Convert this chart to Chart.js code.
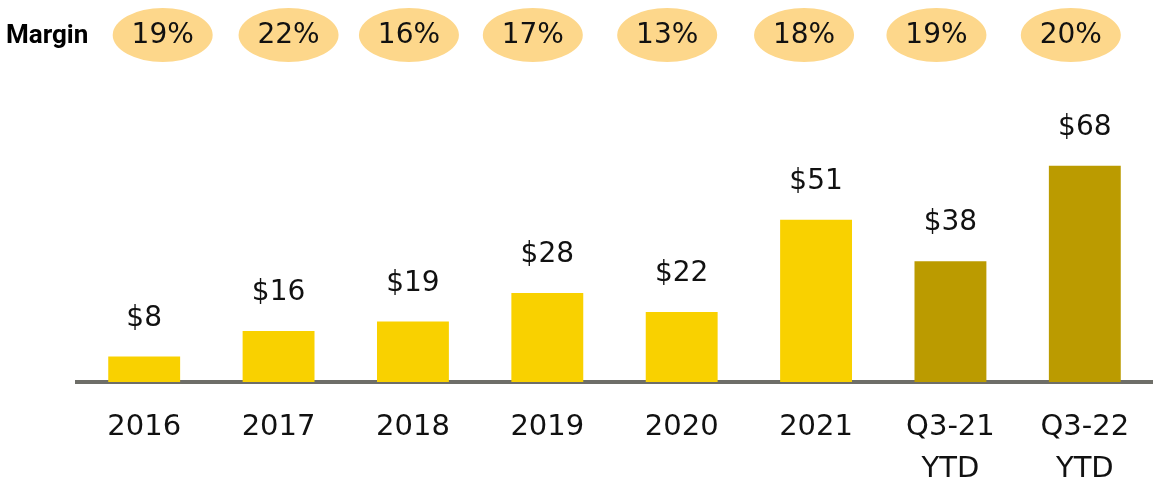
<!DOCTYPE html>
<html>
<head>
<meta charset="utf-8">
<script src="https://cdn.jsdelivr.net/npm/chart.js@4/dist/chart.umd.min.js"></script>
<style>
  html, body { margin: 0; padding: 0; background: #fff; }
  #wrap { width: 1158px; height: 488px; position: relative; }
</style>
</head>
<body>
<div id="wrap"><canvas id="revChart"></canvas></div>
<script>
// ── Data ─────────────────────────────────────────────────────
const categories = ['2016', '2017', '2018', '2019', '2020', '2021', ['Q3-21', 'YTD'], ['Q3-22', 'YTD']];
const values     = [8, 16, 19, 28, 22, 51, 38, 68];
const margins    = ['19%', '22%', '16%', '17%', '13%', '18%', '19%', '20%'];
const ytdFlags   = [false, false, false, false, false, false, true, true];

const FONT = "'DejaVu Sans', sans-serif";
const YELLOW = '#f9d100';
const GOLD   = '#bb9b00';

// value labels above each bar
const valueLabels = {
    id: 'valueLabels',
    afterDatasetsDraw(chart) {
        const { ctx } = chart;
        const meta = chart.getDatasetMeta(0);
        ctx.save();
        ctx.font = `28px ${FONT}`;
        ctx.fillStyle = '#111';
        ctx.textAlign = 'center';
        ctx.textBaseline = 'alphabetic';
        meta.data.forEach((bar, i) => {
            ctx.fillText('$' + values[i], bar.x, bar.y - 31);
        });
        ctx.restore();
    },
};

// margin row with ellipses on top
const marginRow = {
    id: 'marginRow',
    afterDraw(chart, args, opts) {
        const { ctx } = chart;
        const meta = chart.getDatasetMeta(0);
        const cy = opts.y;
        ctx.save();
        ctx.font = `bold 26px Roboto, sans-serif`;
        ctx.fillStyle = '#000';
        ctx.textAlign = 'left';
        ctx.textBaseline = 'middle';
        ctx.fillText('Margin', 6, cy + 1);

        ctx.font = `28px ${FONT}`;
        ctx.textAlign = 'center';
        meta.data.forEach((bar, i) => {
            const cx = bar.x + opts.offsets[i];
            ctx.beginPath();
            ctx.ellipse(cx, cy, 50, 27, 0, 0, Math.PI * 2);
            ctx.fillStyle = '#fdd78b';
            ctx.fill();
            ctx.fillStyle = '#111';
            ctx.fillText(margins[i], cx, cy + 1);
        });
        ctx.restore();
    },
};

const ctx = document.getElementById('revChart').getContext('2d');

const chart = new Chart(ctx, {
    type: 'bar',
    data: {
        labels: categories,
        datasets: [{
            data: values,
            backgroundColor: ytdFlags.map(f => f ? GOLD : YELLOW),
            borderWidth: 0,
            categoryPercentage: 1,
            barPercentage: 0.535,
        }],
    },
    options: {
        responsive: true,
        maintainAspectRatio: false,
        animation: false,
        layout: { padding: { left: 77, right: 6, top: 64, bottom: 0 } },
        scales: {
            x: {
                grid: { display: false },
                border: { display: true, color: '#6e6e68', width: 4 },
                ticks: {
                    color: '#111',
                    font: { family: FONT, size: 29, lineHeight: 1.45 },
                    padding: 16,
                    maxRotation: 0,
                    autoSkip: false,
                },
                afterFit(scale) { scale.height = 106; },
            },
            y: {
                display: false,
                min: 0,
                max: 100,
            },
        },
        plugins: {
            legend: { display: false },
            tooltip: { enabled: false },
            marginRow: {
                y: 35,
                offsets: [18.5, 10, -4, -14.5, -14.5, -12, -14, -14],
            },
        },
    },
    plugins: [valueLabels, marginRow],
});
</script>
</body>
</html>
